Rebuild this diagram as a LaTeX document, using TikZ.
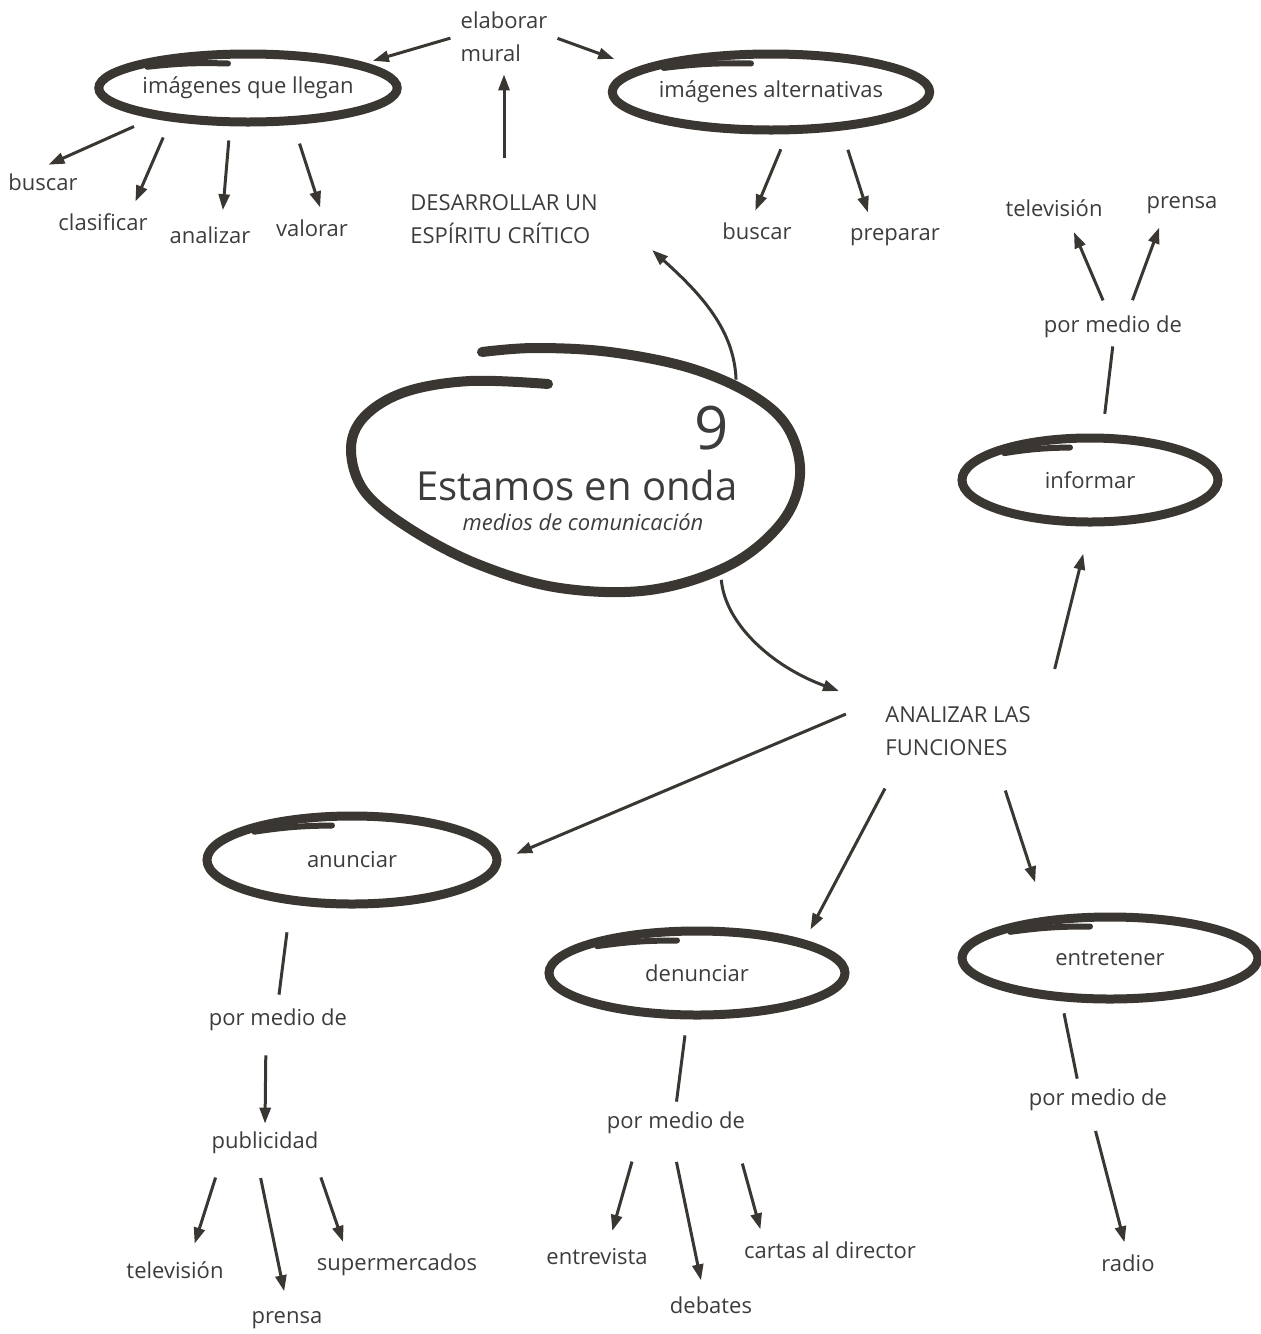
\documentclass[tikz,border=0pt]{standalone}
\usepackage{fontspec}
\setmainfont{Open Sans}
\usetikzlibrary{arrows.meta,shapes.geometric}
\definecolor{ink}{RGB}{58,54,50}
\definecolor{pencil}{RGB}{62,60,58}
\tikzset{
    word/.style = {text=pencil, font=\fontsize{11}{16.5}\selectfont, inner sep=3pt, align=left},
    bubble/.style = {ellipse, draw=ink, line width=4.5pt, text=pencil, font=\fontsize{11}{16.5}\selectfont, inner sep=0pt},
    arrow/.style = {draw=ink, line width=1.5pt, -{Triangle[length=8pt, width=5.5pt]}},
    link/.style = {draw=ink, line width=1.5pt},
    tail/.style = {draw=ink, line width=3pt, line cap=round},
}

\begin{document}
\begin{tikzpicture}[x=0.5pt, y=-0.5pt]
\useasboundingbox (0,0) rectangle (1261,1334);

% top row
\node[word] (elaborar) at (504,37) {elaborar\\mural};
\node[bubble, minimum width=148pt, minimum height=34pt] (llegan) at (248,88) {imágenes que llegan};
\node[bubble, minimum width=149pt, minimum height=38pt] (altern) at (771,92) {imágenes alternativas};
\node[word, anchor=west] (critico) at (404,219) {DESARROLLAR UN\\ESPÍRITU CRÍTICO};
\node[word] (buscar1) at (43,182) {buscar};
\node[word] (clasificar) at (103,222) {clasificar};
\node[word] (analizar1) at (210,235) {analizar};
\node[word] (valorar) at (312,228) {valorar};
\node[word] (buscar2) at (757,231) {buscar};
\node[word] (preparar) at (895,237) {preparar};

% right column
\node[word] (tele1) at (1054,208) {televisión};
\node[word] (prensa1) at (1182,205) {prensa};
\node[word] (medio1) at (1113,327) {por medio de};
\node[bubble, minimum width=128pt, minimum height=42pt] (informar) at (1090,480) {informar};

% centre
\node[ellipse, minimum width=225pt, minimum height=105pt] (tema) at (577,470) {};
\draw[ink, line width=5pt, line cap=round] plot[smooth, tension=0.6] coordinates {
    (548,384) (470,381) (405,392) (364,417) (351,450) (365,492) (412,530)
    (480,565) (560,588) (650,590) (730,565) (782,522) (800,475) (788,428)
    (752,395) (690,368) (610,352) (535,348) (482,352)};
\node[text=pencil, font=\fontsize{30}{30}\selectfont] (nueve) at (712,428) {9};
\node[text=pencil, font=\fontsize{20}{20}\selectfont] (titulo) at (577,485) {Estamos en onda};
\node[text=pencil, font=\fontsize{11}{11}\selectfont\itshape] (sub) at (583,522) {medios de comunicación};
\node[word, anchor=west] (analizar) at (879,731) {ANALIZAR LAS\\FUNCIONES};

% bottom row
\node[bubble, minimum width=145pt, minimum height=44pt] (anunciar) at (352,860) {anunciar};
\node[bubble, minimum width=148pt, minimum height=42pt] (denunciar) at (697,973) {denunciar};
\node[bubble, minimum width=148pt, minimum height=41pt] (entretener) at (1110,958) {entretener};
\node[word] (medio2) at (278,1020) {por medio de};
\node[word] (publicidad) at (265,1143) {publicidad};
\node[word] (tele2) at (175,1270) {televisión};
\node[word] (prensa2) at (287,1320) {prensa};
\node[word] (super) at (397,1265) {supermercados};
\node[word] (medio3) at (676,1123) {por medio de};
\node[word] (entrevista) at (597,1257) {entrevista};
\node[word] (debates) at (711,1305) {debates};
\node[word] (cartas) at (830,1250) {cartas al director};
\node[word] (medio4) at (1098,1100) {por medio de};
\node[word] (radio) at (1128,1263) {radio};

% pen overlap on each bubble
\foreach \n in {llegan,altern,informar,anunciar,denunciar,entretener}
    \draw[tail] ([shift={(4pt,-3pt)}]\n.north west) to[bend left=4] ([shift={(-10pt,-7pt)}]\n.north);

% connectors
\draw[arrow, shorten <=2pt, shorten >=4pt] (elaborar.west) -- (llegan.12);
\draw[arrow, shorten <=2pt, shorten >=22pt] (elaborar.east) -- ([yshift=-6pt]altern.north west);
\draw[arrow, shorten <=15pt, shorten >=3pt] (critico.north -| elaborar) -- (elaborar.south);
\draw[arrow, shorten >=3pt] ([xshift=-57pt]llegan.south) -- (buscar1.north);
\draw[arrow, shorten <=6pt, shorten >=3pt] ([xshift=-40pt]llegan.south) -- ([xshift=15pt]clasificar.north);
\draw[arrow, shorten <=7pt, shorten >=5pt] ([xshift=-9pt]llegan.south) -- ([xshift=6pt]analizar1.north);
\draw[arrow, shorten <=9pt, shorten >=3pt] ([xshift=23pt]llegan.south) -- ([xshift=5pt]valorar.north);
\draw[arrow, shorten <=8pt, shorten >=3pt] ([xshift=8pt]altern.south) -- ([xshift=-2pt]buscar2.north);
\draw[arrow, shorten <=8pt, shorten >=5pt] ([xshift=36pt]altern.south) -- ([xshift=-12pt]preparar.north);

\draw[arrow, shorten <=8pt] (tema.25) to[out=92, in=-42] ([xshift=24pt]critico.south east);
\draw[arrow, shorten <=14pt] (tema.-30) to[out=-85, in=160] ([shift={(-20pt,20pt)}]analizar.west);

\draw[arrow, shorten <=16pt, shorten >=14pt] ([xshift=5pt]analizar.north east) -- (informar.south);
\draw[link, shorten <=10pt, shorten >=1pt] (informar.75) -- (medio1.south);
\draw[arrow, shorten <=5pt, shorten >=5pt] ([xshift=-3pt]medio1.north) -- ([xshift=8pt]tele1.south);
\draw[arrow, shorten <=5pt, shorten >=4pt] ([xshift=8pt]medio1.north) -- ([xshift=-10pt]prensa1.south);

\draw[arrow, shorten <=18pt, shorten >=8pt] (analizar.north west) -- (anunciar.east);
\draw[arrow, shorten <=15pt, shorten >=6pt] ([xshift=10pt]analizar.south west) -- (denunciar.north east);
\draw[arrow, shorten <=15pt, shorten >=18pt] ([xshift=19pt]analizar.south) -- (entretener.147);

\draw[link, shorten <=12pt, shorten >=4pt] ([xshift=-31pt]anunciar.south) -- (medio2.north);
\draw[arrow, shorten <=9pt, shorten >=1pt] ([xshift=-6pt]medio2.south) -- (publicidad.north);
\draw[arrow, shorten <=9pt, shorten >=6pt] ([xshift=-22pt]publicidad.south) -- ([xshift=8pt]tele2.north);
\draw[arrow, shorten <=9pt, shorten >=7pt] ([xshift=-4pt]publicidad.south) -- (prensa2.north);
\draw[arrow, shorten <=9pt, shorten >=3pt] ([xshift=25pt]publicidad.south) -- ([xshift=-26pt]super.north);

\draw[link, shorten <=8pt, shorten >=2pt] ([xshift=-5pt]denunciar.south) -- (medio3.north);
\draw[arrow, shorten <=11pt, shorten >=6pt] ([xshift=-19pt]medio3.south) -- ([xshift=6pt]entrevista.north);
\draw[arrow, shorten <=11pt, shorten >=5pt] ([xshift=-2pt]medio3.south) -- ([xshift=-4pt]debates.north);
\draw[arrow, shorten <=12pt, shorten >=3pt] ([xshift=30pt]medio3.south) -- ([xshift=-34pt]cartas.north);

\draw[link, shorten <=5pt, shorten >=2pt] ([xshift=-24pt]entretener.south) -- ([xshift=-10pt]medio4.north);
\draw[arrow, shorten <=7pt, shorten >=3pt] ([xshift=-3pt]medio4.south) -- ([xshift=-1pt]radio.north);
\end{tikzpicture}
\end{document}
